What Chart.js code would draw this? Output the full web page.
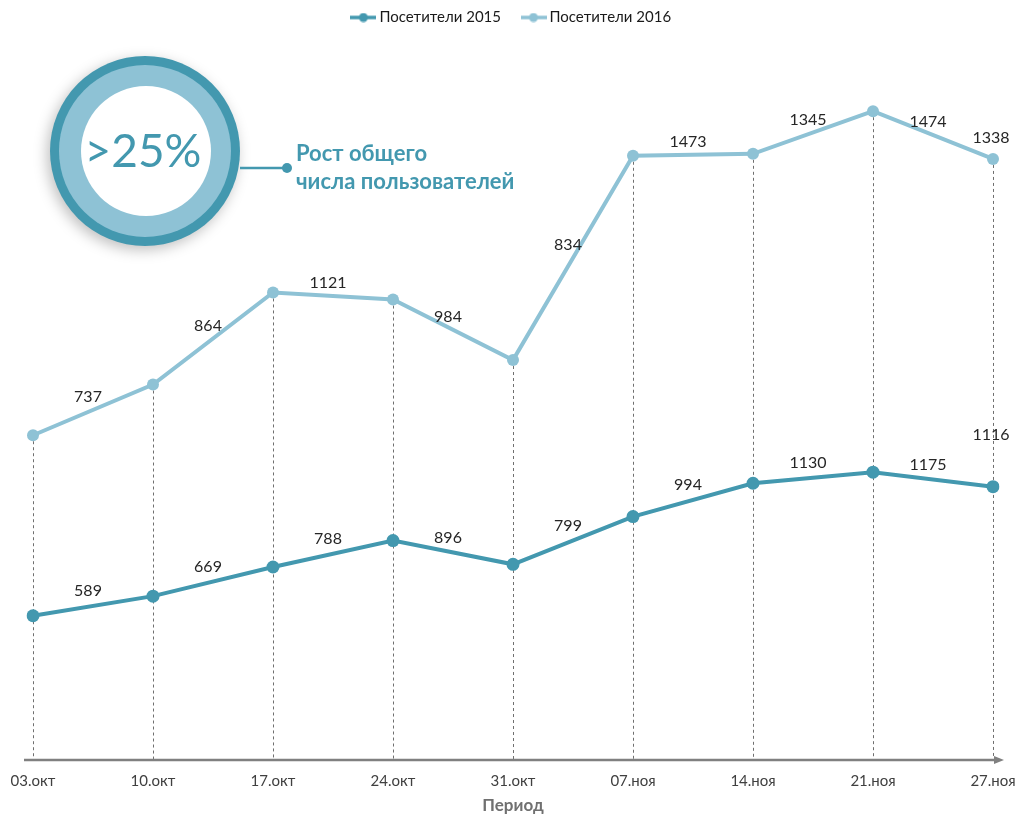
<!DOCTYPE html>
<html>
<head>
<meta charset="utf-8">
<script src="https://cdn.jsdelivr.net/npm/chart.js@4"></script>
<style>
  html, body { margin: 0; padding: 0; background: #ffffff; }
  #wrap { width: 1020px; height: 819px; position: relative; }
</style>
</head>
<body>
<div id="wrap"><canvas id="c" width="1020" height="819"></canvas></div>
<script>
const categories = ['03.окт','10.окт','17.окт','24.окт','31.окт','07.ноя','14.ноя','21.ноя','27.ноя'];
const visitors2015 = [589, 669, 788, 896, 799, 994, 1130, 1175, 1116];
const visitors2016 = [737, 864, 1121, 984, 834, 1473, 1345, 1474, 1338];
const seriesNames = ['Посетители 2015', 'Посетители 2016'];
const axisTitle = 'Период';
const calloutValue = '>25%';
const calloutLines = ['Рост общего', 'числа пользователей'];

const DARK = '#4398AF';
const LIGHT = '#8EC2D5';
const FONT = 'Lato, "Open Sans", sans-serif';

function legendIcon(color) {
  const c = document.createElement('canvas');
  c.width = 26; c.height = 10;
  const g = c.getContext('2d');
  g.strokeStyle = color; g.lineWidth = 3.5;
  g.beginPath(); g.moveTo(0, 5); g.lineTo(26, 5); g.stroke();
  g.fillStyle = color;
  g.beginPath(); g.arc(13, 5, 4.5, 0, Math.PI * 2); g.fill();
  return c;
}

const decorPlugin = {
  id: 'decor',
  beforeDatasetsDraw(chart) {
    const ctx = chart.ctx;
    const ca = chart.chartArea;
    const top = chart.getDatasetMeta(1).data;
    ctx.save();
    ctx.strokeStyle = '#6f6f6f';
    ctx.lineWidth = 1;
    ctx.setLineDash([3, 3]);
    top.forEach(p => {
      ctx.beginPath();
      ctx.moveTo(Math.round(p.x) + 0.5, p.y);
      ctx.lineTo(Math.round(p.x) + 0.5, ca.bottom);
      ctx.stroke();
    });
    ctx.setLineDash([]);
    const y0 = chart.scales.y.getPixelForValue(0);
    ctx.strokeStyle = '#808080';
    ctx.fillStyle = '#808080';
    ctx.lineWidth = 2.5;
    ctx.beginPath();
    ctx.moveTo(ca.left - 9, y0);
    ctx.lineTo(ca.right + 4, y0);
    ctx.stroke();
    ctx.beginPath();
    ctx.moveTo(ca.right + 11, y0);
    ctx.lineTo(ca.right + 1, y0 - 4);
    ctx.lineTo(ca.right + 1, y0 + 4);
    ctx.closePath();
    ctx.fill();
    ctx.restore();
  },
  afterDatasetsDraw(chart) {
    const ctx = chart.ctx;
    ctx.save();
    ctx.font = '16px ' + FONT;
    ctx.fillStyle = '#262626';
    ctx.textAlign = 'center';
    ctx.textBaseline = 'middle';
    chart.data.datasets.forEach((ds, di) => {
      const pts = chart.getDatasetMeta(di).data;
      ds.data.forEach((v, i) => {
        let x, y;
        if (i < pts.length - 1) {
          x = (pts[i].x + pts[i + 1].x) / 2 - 5;
          y = (pts[i].y + pts[i + 1].y) / 2 - ds.labelLift;
        } else {
          x = pts[i].x - 2;
          y = pts[i].y - ds.lastLift;
        }
        ctx.fillText(String(v), x, y);
      });
    });
    ctx.restore();

    ctx.save();
    const cx = 145, cy = 151;
    ctx.shadowColor = 'rgba(0,0,0,0.25)';
    ctx.shadowBlur = 14;
    ctx.shadowOffsetX = -3;
    ctx.shadowOffsetY = 4;
    ctx.fillStyle = DARK;
    ctx.beginPath(); ctx.arc(cx, cy, 95, 0, Math.PI * 2); ctx.fill();
    ctx.shadowColor = 'transparent';
    ctx.fillStyle = LIGHT;
    ctx.beginPath(); ctx.arc(cx, cy, 86, 0, Math.PI * 2); ctx.fill();
    ctx.fillStyle = '#ffffff';
    ctx.beginPath(); ctx.arc(cx + 1, cy, 65, 0, Math.PI * 2); ctx.fill();
    ctx.fillStyle = DARK;
    ctx.font = '400 46px ' + FONT;
    ctx.textAlign = 'center';
    ctx.textBaseline = 'middle';
    ctx.fillText(calloutValue, cx - 2, cy + 1);
    ctx.strokeStyle = DARK;
    ctx.lineWidth = 2.5;
    ctx.beginPath(); ctx.moveTo(cx + 95, 168); ctx.lineTo(287, 168); ctx.stroke();
    ctx.beginPath(); ctx.arc(287, 168, 5, 0, Math.PI * 2); ctx.fill();
    ctx.font = 'bold 22px ' + FONT;
    ctx.textAlign = 'left';
    ctx.textBaseline = 'alphabetic';
    ctx.fillText(calloutLines[0], 296, 161);
    ctx.fillText(calloutLines[1], 296, 189);
    ctx.restore();
  }
};

new Chart(document.getElementById('c'), {
  type: 'line',
  data: {
    labels: categories,
    datasets: [
      {
        label: seriesNames[0],
        data: visitors2015,
        borderColor: DARK,
        backgroundColor: DARK,
        borderWidth: 4,
        pointRadius: 6.5,
        pointBorderWidth: 0,
        pointBackgroundColor: DARK,
        fill: false,
        tension: 0,
        labelLift: 15,
        lastLift: 52
      },
      {
        label: seriesNames[1],
        data: visitors2016,
        borderColor: LIGHT,
        backgroundColor: LIGHT,
        borderWidth: 4,
        pointRadius: 6,
        pointBorderWidth: 0,
        pointBackgroundColor: LIGHT,
        fill: false,
        tension: 0,
        labelLift: 13,
        lastLift: 21
      }
    ]
  },
  options: {
    responsive: false,
    animation: false,
    devicePixelRatio: 1,
    layout: { padding: { left: 33, right: 27, top: -14, bottom: 0 } },
    plugins: {
      tooltip: { enabled: false },
      legend: {
        display: true,
        position: 'top',
        labels: {
          usePointStyle: true,
          pointStyleWidth: 17,
          generateLabels(chart) {
            return chart.data.datasets.map((ds, i) => ({
              text: ds.label,
              pointStyle: legendIcon(i === 0 ? DARK : LIGHT),
              fillStyle: 'transparent',
              strokeStyle: 'transparent',
              lineWidth: 0,
              datasetIndex: i,
              hidden: false,
              fontColor: '#1a1a1a'
            }));
          },
          color: '#1a1a1a',
          font: { family: FONT, size: 15 },
          padding: 24,
          boxWidth: 17,
          boxHeight: 10
        }
      }
    },
    scales: {
      x: {
        offset: false,
        grid: { display: false, drawTicks: false },
        border: { display: false },
        ticks: { color: '#404040', font: { family: FONT, size: 15, lineHeight: 1.2 }, padding: 12, maxRotation: 0, autoSkip: false },
        title: { display: true, text: axisTitle, color: '#707070', font: { family: FONT, size: 17, weight: 'bold', lineHeight: 1.2 }, padding: { top: 0, bottom: 3 } },
        afterFit(scale) {
          scale.paddingLeft = 0;
          scale.paddingRight = 0;
          scale.height = 59;
        }
      },
      y: {
        display: false,
        stacked: true,
        min: 0,
        max: 2960
      }
    }
  },
  plugins: [decorPlugin]
});
</script>
</body>
</html>
